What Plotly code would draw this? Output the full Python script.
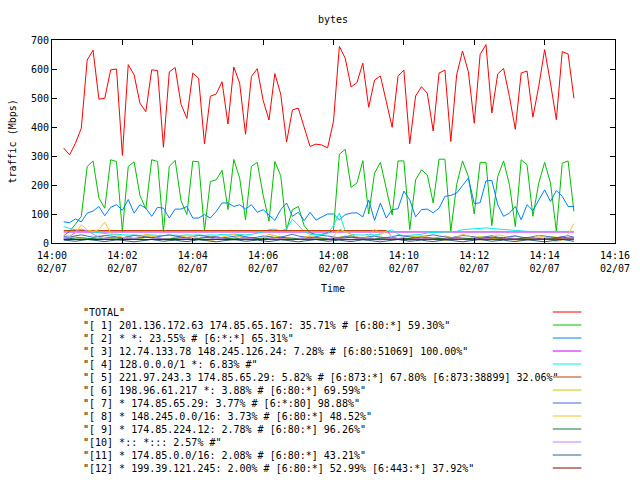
import datetime as dt
import plotly.graph_objects as go

# ---------------- data ----------------
start = dt.datetime(2011, 2, 7, 14, 0, 20)
times = [start + dt.timedelta(seconds=10 * k) for k in range(88)]

total = [327, 304, 344, 396, 631, 665, 496, 499, 597, 600, 302, 615, 580, 482, 453, 597, 595, 330, 590, 605,
         478, 430, 586, 568, 342, 506, 514, 556, 410, 607, 551, 375, 574, 601, 492, 424, 584, 513, 348, 459,
         465, 395, 333, 341, 338, 328, 420, 678, 637, 538, 553, 620, 468, 562, 576, 488, 399, 575, 596, 342,
         507, 539, 516, 386, 586, 596, 350, 580, 662, 590, 413, 650, 684, 448, 583, 602, 505, 392, 586, 593,
         434, 540, 667, 551, 425, 660, 652, 499]
s1 = [25, 40, 65, 92, 264, 283, 155, 120, 287, 281, 40, 264, 280, 164, 117, 287, 281, 40, 264, 285,
      146, 98, 282, 280, 42, 212, 218, 251, 115, 288, 224, 80, 264, 278, 165, 75, 281, 232, 46, 115,
      126, 60, 35, 30, 30, 35, 45, 306, 323, 192, 207, 284, 100, 241, 278, 189, 97, 283, 283, 46,
      218, 252, 235, 138, 289, 289, 40, 201, 283, 229, 100, 278, 278, 60, 229, 283, 201, 57, 287, 270,
      92, 207, 278, 207, 40, 275, 283, 109]
s2 = [73, 70, 83, 73, 103, 110, 126, 94, 123, 132, 113, 150, 103, 132, 120, 92, 123, 120, 86, 117,
      117, 126, 86, 86, 98, 86, 109, 138, 138, 126, 132, 117, 132, 106, 115, 98, 78, 115, 138, 92,
      106, 77, 106, 79, 90, 100, 100, 80, 98, 103, 104, 90, 148, 78, 138, 86, 115, 118, 179, 149,
      90, 115, 117, 104, 120, 161, 164, 172, 198, 224, 136, 139, 214, 216, 132, 92, 103, 126, 80, 132,
      112, 149, 183, 143, 181, 161, 126, 126]
s3 = [38, 38, 39, 38, 38, 38, 39, 38, 38, 38, 38, 39, 38, 38, 38, 38, 39, 38, 38, 38,
      38, 38, 39, 38, 38, 38, 38, 38, 39, 38, 38, 38, 38, 38, 39, 38, 38, 38, 38, 38,
      39, 38, 38, 38, 38, 38, 39, 38, 38, 38, 38, 38, 39, 38, 38, 38, 38, 38, 38, 38,
      38, 38, 38, 38, 38, 38, 38, 38, 38, 38, 38, 38, 38, 38, 38, 38, 38, 38, 38, 38,
      38, 38, 38, 38, 38, 38, 38, 38]
s4 = [57, 50, 46, 45, 42, 38, 35, 32, 30, 30, 28, 27, 28, 26, 27, 28, 26, 27, 28, 27,
      26, 28, 27, 28, 26, 28, 27, 30, 28, 30, 29, 28, 30, 34, 38, 46, 48, 40, 50, 82,
      60, 40, 30, 28, 30, 32, 60, 103, 40, 30, 28, 27, 30, 28, 30, 40, 45, 30, 25, 26,
      28, 30, 35, 36, 35, 36, 38, 40, 46, 48, 50, 52, 52, 50, 48, 46, 44, 42, 40, 40,
      40, 40, 40, 40, 40, 40, 40, 40]
s5 = [43, 43, 43, 43, 43, 43, 43, 43, 43, 43, 43, 43, 43, 43, 43, 43, 43, 43, 43, 43,
      43, 43, 43, 43, 43, 43, 43, 43, 43, 43, 43, 43, 43, 43, 43, 43, 43, 43, 43, 43,
      43, 43, 43, 43, 43, 43, 43, 43, 43, 43, 43, 43, 43, 43, 43, 43, 20, 15, 14, 15,
      14, 13, 15, 14, 13, 15, 14, 15, 13, 14, 15, 14, 13, 15, 14, 13, 15, 14, 15, 13,
      14, 15, 14, 13, 15, 14, 13, 14]
s6 = [20, 18, 22, 15, 12, 18, 25, 20, 15, 12, 18, 22, 16, 14, 20, 24, 18, 12, 15, 20,
      22, 18, 14, 16, 20, 24, 19, 15, 12, 18, 22, 20, 16, 14, 18, 22, 25, 20, 16, 12,
      15, 20, 22, 18, 14, 12, 16, 20, 24, 20, 16, 14, 18, 22, 20, 16, 12, 15, 20, 24,
      22, 18, 14, 16, 20, 24, 20, 16, 12, 15, 18, 22, 20, 16, 14, 18, 22, 25, 20, 16,
      14, 12, 18, 22, 20, 16, 14, 20]
s7 = [22, 20, 25, 28, 24, 20, 22, 26, 24, 20, 18, 22, 26, 24, 20, 18, 22, 25, 28, 24,
      20, 18, 22, 26, 24, 20, 22, 18, 20, 24, 26, 22, 18, 20, 24, 22, 18, 20, 26, 30,
      24, 20, 18, 22, 26, 24, 20, 18, 22, 25, 20, 18, 22, 24, 20, 18, 22, 26, 24, 20,
      18, 22, 25, 28, 24, 20, 18, 22, 26, 24, 20, 18, 22, 25, 20, 18, 22, 24, 20, 18,
      22, 26, 24, 20, 18, 22, 25, 20]
s8 = [28, 25, 35, 63, 45, 40, 46, 72, 35, 25, 20, 15, 12, 20, 30, 25, 18, 12, 10, 15,
      20, 25, 22, 15, 10, 8, 12, 20, 25, 30, 22, 15, 10, 12, 18, 30, 25, 15, 12, 10,
      15, 20, 25, 18, 12, 10, 22, 48, 40, 30, 20, 15, 25, 48, 30, 40, 20, 15, 10, 12,
      18, 25, 20, 15, 10, 8, 12, 20, 30, 25, 15, 10, 12, 20, 28, 25, 15, 10, 8, 12,
      18, 25, 20, 10, 5, 10, 30, 67]
s9 = [16, 15, 17, 18, 16, 15, 14, 16, 18, 17, 15, 14, 16, 18, 20, 18, 16, 15, 14, 16,
      18, 17, 15, 16, 18, 20, 18, 16, 15, 14, 16, 18, 17, 15, 14, 16, 18, 20, 18, 16,
      15, 14, 16, 18, 17, 15, 14, 16, 18, 20, 18, 16, 15, 14, 16, 18, 17, 15, 14, 16,
      18, 20, 18, 16, 15, 14, 16, 18, 17, 15, 14, 16, 18, 20, 18, 16, 15, 14, 16, 18,
      17, 15, 14, 16, 18, 20, 18, 16]
s10 = [15, 18, 40, 48, 42, 30, 20, 15, 12, 10, 14, 18, 15, 12, 10, 14, 18, 15, 12, 10,
       14, 18, 15, 12, 10, 14, 18, 15, 12, 10, 14, 18, 15, 12, 10, 14, 18, 15, 12, 10,
       14, 18, 15, 12, 10, 14, 18, 15, 12, 10, 14, 18, 15, 12, 10, 14, 18, 15, 12, 10,
       14, 18, 15, 12, 10, 14, 18, 15, 12, 10, 14, 18, 15, 12, 10, 14, 18, 15, 12, 10,
       14, 18, 15, 12, 10, 14, 18, 15]
s11 = [10, 8, 6, 9, 12, 10, 7, 5, 8, 11, 9, 6, 4, 7, 10, 12, 9, 6, 8, 10,
       7, 5, 8, 11, 9, 6, 4, 7, 10, 12, 9, 6, 8, 10, 7, 5, 8, 11, 9, 6,
       4, 7, 10, 12, 9, 6, 8, 10, 7, 5, 8, 11, 9, 6, 4, 7, 10, 12, 9, 6,
       8, 10, 7, 5, 8, 11, 9, 6, 4, 7, 10, 12, 9, 6, 8, 10, 7, 5, 8, 11,
       9, 6, 4, 7, 10, 12, 9, 6]
s12 = [12, 12, 13, 12, 12, 11, 12, 13, 12, 12, 11, 12, 13, 12, 12, 11, 12, 13, 12, 12,
       11, 12, 13, 12, 12, 11, 12, 13, 12, 12, 11, 12, 13, 12, 12, 11, 12, 13, 12, 12,
       11, 12, 13, 12, 12, 11, 12, 13, 12, 12, 11, 12, 13, 12, 12, 11, 12, 13, 12, 12,
       11, 12, 13, 12, 12, 11, 12, 13, 12, 12, 11, 12, 13, 12, 12, 11, 12, 13, 12, 12,
       11, 12, 13, 12, 12, 11, 12, 13]

series_values = [total, s1, s2, s3, s4, s5, s6, s7, s8, s9, s10, s11, s12]
series_labels = [
    '"TOTAL"',
    '"[ 1] 201.136.172.63 174.85.65.167: 35.71% # [6:80:*] 59.30%"',
    '"[ 2] * *: 23.55% # [6:*:*] 65.31%"',
    '"[ 3] 12.74.133.78 148.245.126.24: 7.28% # [6:80:51069] 100.00%"',
    '"[ 4] 128.0.0.0/1 *: 6.83% #"',
    '"[ 5] 221.97.243.3 174.85.65.29: 5.82% # [6:873:*] 67.80% [6:873:38899] 32.06%"',
    '"[ 6] 198.96.61.217 *: 3.88% # [6:80:*] 69.59%"',
    '"[ 7] * 174.85.65.29: 3.77% # [6:*:80] 98.88%"',
    '"[ 8] * 148.245.0.0/16: 3.73% # [6:80:*] 48.52%"',
    '"[ 9] * 174.85.224.12: 2.78% # [6:80:*] 96.26%"',
    '"[10] *:: *::: 2.57% #"',
    '"[11] * 174.85.0.0/16: 2.08% # [6:80:*] 43.21%"',
    '"[12] * 199.39.121.245: 2.00% # [6:80:*] 52.99% [6:443:*] 37.92%"',
]
colors = ["#ff0000", "#00c000", "#0080ff", "#c000ff", "#00eeee", "#c04000", "#c8c800",
          "#4169e1", "#ffc020", "#008040", "#c080ff", "#306080", "#8b0000"]

tick_times = [dt.datetime(2011, 2, 7, 14, m) for m in range(0, 17, 2)]
tick_text = [t.strftime("%H:%M") + "<br>" + t.strftime("%m/%d") for t in tick_times]

# ---------------- figure ----------------
W, H = 640, 480
L, T = 52, 40
pw, ph = 570, 203          # wanted plot-area size in pixels
R_REQ = 10                 # the page renders the plot area 8px narrower than asked
B = H - T - ph

def px_x(px):
    return (px - L) / pw

def px_y(py):
    return (T + ph - py) / ph

FONT = "DejaVu Sans Mono, Liberation Mono, monospace"

fig = go.Figure()
for vals, lab, col in zip(series_values, series_labels, colors):
    fig.add_trace(go.Scatter(x=times, y=vals, mode="lines", name=lab,
                             line=dict(color=col, width=1), showlegend=False))

annotations = [
    dict(text="bytes", x=px_x(336), y=px_y(20), xref="paper", yref="paper", showarrow=False,
         font=dict(size=10, family=FONT, color="black"), xanchor="center", yanchor="middle"),
    dict(text="Time", x=px_x(336), y=px_y(288), xref="paper", yref="paper", showarrow=False,
         font=dict(size=10, family=FONT, color="black"), xanchor="center", yanchor="middle"),
    dict(text="traffic (Mbps)", x=px_x(11), y=px_y(142), xref="paper", yref="paper",
         showarrow=False, textangle=-90, font=dict(size=10, family=FONT, color="black"),
         xanchor="center", yanchor="middle"),
]
shapes = []
for i, (lab, col) in enumerate(zip(series_labels, colors)):
    yy = 312 + 13 * i
    annotations.append(dict(text=lab, x=px_x(81), y=px_y(yy), xref="paper", yref="paper",
                            showarrow=False, xanchor="left", yanchor="middle",
                            font=dict(size=10, family=FONT, color="black")))
    shapes.append(dict(type="line", xref="paper", yref="paper", x0=px_x(559), x1=px_x(588),
                       y0=px_y(yy), y1=px_y(yy), line=dict(color=col, width=1)))

fig.update_layout(
    width=W, height=H, autosize=False, margin=dict(l=L, r=R_REQ, t=T, b=B),
    paper_bgcolor="white", plot_bgcolor="white",
    annotations=annotations, shapes=shapes,
    font=dict(family=FONT, size=10, color="black"),
    xaxis=dict(type="date", range=[tick_times[0], tick_times[-1]], tickvals=tick_times,
               ticktext=tick_text, ticks="inside", ticklen=5, tickcolor="black",
               showline=True, linecolor="black", linewidth=1, mirror="ticks",
               showgrid=False, zeroline=False, tickfont=dict(size=10, family=FONT),
               ticklabelstandoff=3, ticklabeloverflow="allow"),
    yaxis=dict(range=[0, 700], tickvals=list(range(0, 701, 100)), ticks="inside", ticklen=5,
               tickcolor="black", showline=True, linecolor="black", linewidth=1,
               mirror="ticks", showgrid=False, zeroline=False,
               tickfont=dict(size=10, family=FONT)),
)
# remove the default page margin and scrollbars so the 640x480 figure fills the window
fig.write_html(
    "out.html",
    config={"displayModeBar": False, "responsive": False},
    post_script=("document.documentElement.style.overflow='hidden';"
                 "document.body.style.margin='0';"
                 "document.body.style.overflow='hidden';"),
)
